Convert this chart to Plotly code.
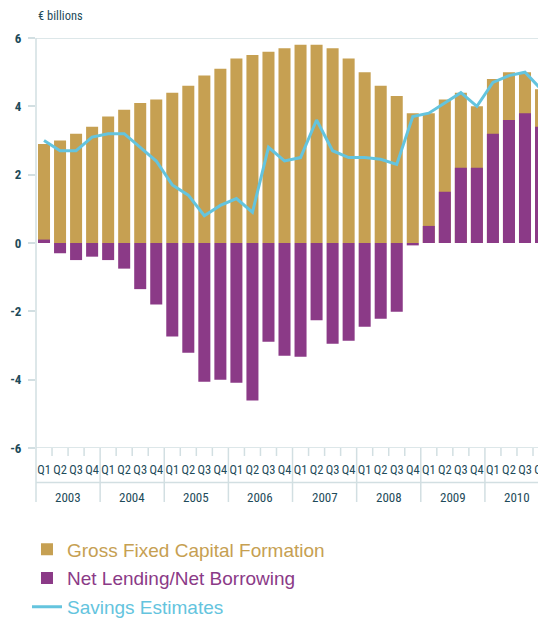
import plotly.graph_objects as go

years = ["2003", "2004", "2005", "2006", "2007", "2008", "2009", "2010"]
quarters = ["Q1", "Q2", "Q3", "Q4"]
categories = [f"{y} {q}" for y in years for q in quarters]
quarter_labels = [q for y in years for q in quarters]
y_ticks = [-6, -4, -2, 0, 2, 4, 6]
y_tick_text = ["-6", "-4", "-2", "0", "2", "4", "6"]

gross_fixed_capital = [2.9, 3.0, 3.2, 3.4, 3.7, 3.9, 4.1, 4.2,
                       4.4, 4.6, 4.9, 5.1, 5.4, 5.5, 5.6, 5.7,
                       5.8, 5.8, 5.7, 5.4, 5.0, 4.6, 4.3, 3.8,
                       3.8, 4.2, 4.4, 4.0, 4.8, 5.0, 5.0, 4.5]
net_lending = [0.1, -0.3, -0.5, -0.4, -0.5, -0.75, -1.35, -1.8,
               -2.74, -3.21, -4.06, -4.0, -4.09, -4.61, -2.89, -3.3,
               -3.33, -2.26, -2.95, -2.86, -2.45, -2.22, -2.01, -0.07,
               0.5, 1.5, 2.2, 2.2, 3.2, 3.6, 3.8, 3.4]
savings = [3.0, 2.7, 2.7, 3.1, 3.2, 3.2, 2.8, 2.4,
           1.7, 1.4, 0.8, 1.1, 1.3, 0.9, 2.8, 2.4,
           2.5, 3.6, 2.7, 2.5, 2.5, 2.45, 2.3, 3.7,
           3.8, 4.1, 4.4, 4.0, 4.7, 4.9, 5.0, 4.5]

GOLD = "#C6A052"
PURPLE = "#8B3A87"
BLUE = "#64C4DE"
TEXT = "#1E4B5A"
LINE = "#D2DFE2"
COND = "Roboto, Liberation Sans, Arial, sans-serif"


def cond(t):
    return f'<span style="font-stretch:condensed">{t}</span>'


fig = go.Figure()
fig.add_trace(go.Bar(
    x=categories, y=gross_fixed_capital, width=0.75, marker_color=GOLD,
    marker_line_width=0, legendgroup="a",
    name=f'<span style="color:{GOLD}">Gross Fixed Capital Formation</span>'))
fig.add_trace(go.Bar(
    x=categories, y=net_lending, width=0.75, marker_color=PURPLE,
    marker_line_width=0, legendgroup="b",
    name=f'<span style="color:{PURPLE}">Net Lending/Net Borrowing</span>'))
fig.add_trace(go.Scatter(
    x=categories, y=savings, mode="lines", line=dict(color=BLUE, width=3),
    legendgroup="c",
    name=f'<span style="color:{BLUE}">Savings Estimates</span>'))

PLOT_H = 410.0


def py(px_below):
    return -px_below / PLOT_H


shapes = []
for yv in (6, -6):
    shapes.append(dict(type="line", xref="paper", yref="y", x0=0, x1=1, y0=yv, y1=yv,
                       line=dict(color=LINE, width=1.5)))
shapes.append(dict(type="line", xref="paper", yref="paper", x0=0, x1=0, y0=1, y1=py(54),
                   line=dict(color=LINE, width=1.5)))
shapes.append(dict(type="line", xref="paper", yref="paper", x0=0, x1=1, y0=py(34.5), y1=py(34.5),
                   line=dict(color=LINE, width=1.5)))
for i in range(1, len(categories)):
    xv = i - 0.5
    long = (i % 4 == 0)
    shapes.append(dict(type="line", xref="x", yref="paper", x0=xv, x1=xv, y0=0,
                       y1=py(54) if long else py(8),
                       line=dict(color=LINE, width=1.5)))

annotations = []
for k, y in enumerate(years):
    annotations.append(dict(x=4 * k + 1.5, y=py(49.5), xref="x", yref="paper", text=cond(y),
                            showarrow=False, yanchor="middle", xanchor="center",
                            font=dict(family=COND, size=13, color=TEXT)))
annotations.append(dict(x=0, y=1.054, xref="paper", yref="paper", text=cond("€ billions"),
                        showarrow=False, xanchor="left", yanchor="middle",
                        font=dict(family=COND, size=12.5, color=TEXT)))

fig.update_layout(
    width=538, height=611,
    margin=dict(l=28, r=0, t=30, b=171, autoexpand=False),
    paper_bgcolor="white", plot_bgcolor="white",
    barmode="overlay",
    showlegend=True,
    legend=dict(x=0.0353, y=0.145, xref="container", yref="container",
                xanchor="left", yanchor="top",
                font=dict(family="Liberation Sans, Arial, sans-serif", size=19),
                traceorder="grouped", tracegroupgap=1, bgcolor="rgba(0,0,0,0)"),
    shapes=shapes, annotations=annotations,
    xaxis=dict(type="category", categoryorder="array", categoryarray=categories,
               tickmode="array", tickvals=categories,
               ticktext=[cond(q) for q in quarter_labels],
               range=[-0.5, 31.31], ticks="", showgrid=False, showline=False,
               zeroline=False, tickangle=0, automargin=False, ticklabelstandoff=12,
               tickfont=dict(family=COND, size=12.5, color=TEXT)),
    yaxis=dict(range=[-6, 6], tickmode="array", tickvals=y_ticks,
               ticktext=[cond(t) for t in y_tick_text],
               ticks="outside", ticklen=7, tickwidth=1.5, tickcolor=LINE,
               showgrid=False, showline=False, zeroline=False, automargin=False,
               tickfont=dict(family=COND, size=13, color=TEXT, weight=700),
               ticklabelstandoff=4),
)

fig.write_html("out.html")
